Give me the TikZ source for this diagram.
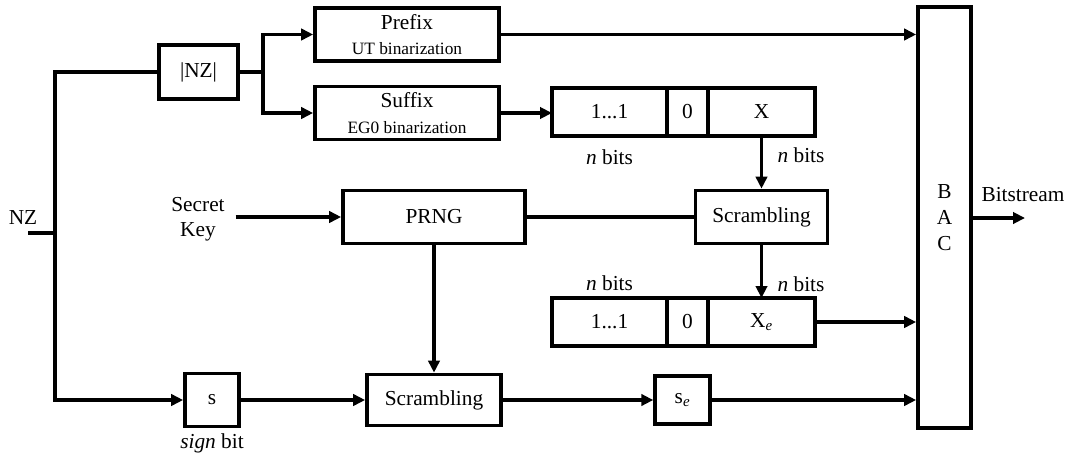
\documentclass[tikz,border=0pt]{standalone}
\usepackage{fontspec}
\setmainfont{Liberation Serif}
\usetikzlibrary{arrows.meta,positioning}
\newcommand\binfont{\fontsize{13}{15}\selectfont}

\begin{document}
\begin{tikzpicture}[x=0.75pt,y=-0.75pt,
  box/.style={draw, line width=2.8pt, minimum height=39.75pt, inner sep=0pt, font=\fontsize{16}{19}\selectfont},
  cell/.style={box, outer sep=0pt, minimum height=36pt},
  arr/.style={line width=2.5pt, -{Triangle[length=9pt,width=8.5pt]}},
  ln/.style={line width=2.5pt},
  lbl/.style={font=\fontsize{16}{19}\selectfont, inner sep=1pt}]
\useasboundingbox (0,0) rectangle (1068,457);
% blocks
\node[box, minimum width=59pt, minimum height=40.5pt] (nzabs) at (198.5,72) {|NZ|};
\node[box, minimum width=138pt, align=center] (prefix) at (407,34.5) {Prefix\\{\binfont UT binarization}};
\node[box, minimum width=138pt, align=center] (suffix) at (407,113) {Suffix\\{\binfont EG0 binarization}};
\node[cell, minimum width=86.25pt] (r1a) at (609.5,112) {1...1};
\node[cell, minimum width=30.75pt, right=0pt of r1a] (r1b) {0};
\node[cell, minimum width=80.25pt, right=0pt of r1b] (r1x) {X};
\node[box, minimum width=136.5pt] (prng) at (434,217) {PRNG};
\node[box, minimum width=99pt] (scr1) at (761.5,217) {Scrambling};
\node[cell, minimum width=86.25pt] (r2a) at (609.5,322) {1...1};
\node[cell, minimum width=30.75pt, right=0pt of r2a] (r2b) {0};
\node[cell, minimum width=80.25pt, right=0pt of r2b] (r2x) {X\textsubscript{\textit{e}}};
\node[box, minimum width=40.5pt] (s) at (212,400) {s};
\node[box, minimum width=100.5pt, minimum height=38.25pt] (scr2) at (434,400) {Scrambling};
\node[box, minimum width=41pt, minimum height=36pt] (se) at (682.5,400) {s\textsubscript{\textit{e}}};
\node[box, minimum width=39.75pt, minimum height=315.75pt, align=center, font=\fontsize{16}{19.5}\selectfont] (bac) at (944.5,217.5) {B\\A\\C};
% labels
\node[lbl] (nz) at (23,218) {NZ};
\node[lbl, align=center, inner xsep=8pt] (key) at (198,219) {Secret\\Key};
\node[lbl] (bits) at (1023,195) {Bitstream};
\node[lbl] (nb1) at (609.5,157) {\textit{n} bits};
\node[lbl] (nb2) at (801,155) {\textit{n} bits};
\node[lbl] (nb3) at (609.5,283) {\textit{n} bits};
\node[lbl] (nb4) at (801,284) {\textit{n} bits};
\node[lbl] (sgn) at (212,443) {\textit{sign} bit};
\coordinate (nzin) at (28,233);
\coordinate (jn) at (55,233);
\coordinate (jb) at (263,72);
\coordinate (out) at (1025,218);
% connectors
\draw[ln] (nzin) -- (jn);
\draw[ln] (nzabs.west) -| (jn);
\draw[arr] (jn) |- (s.west);
\draw[ln] (nzabs.east) -- (jb);
\draw[arr] (jb) |- (prefix.west);
\draw[arr] (jb) |- (suffix.west);
\draw[arr] (prefix.east) -- (prefix.east -| bac.west);
\draw[arr] (suffix.east) -- (suffix.east -| r1a.west);
\draw[arr] (r1x) -- (scr1);
\draw[arr] (key.east |- prng.west) -- (prng.west);
\draw[ln] (prng) -- (scr1);
\draw[arr] (scr1) -- (r2x);
\draw[arr] (r2x.east) -- (r2x.east -| bac.west);
\draw[arr] (prng) -- (scr2);
\draw[arr] (s) -- (scr2);
\draw[arr] (scr2) -- (se);
\draw[arr] (se.east) -- (se.east -| bac.west);
\draw[arr] (bac.east |- out) -- (out);
\end{tikzpicture}
\end{document}
